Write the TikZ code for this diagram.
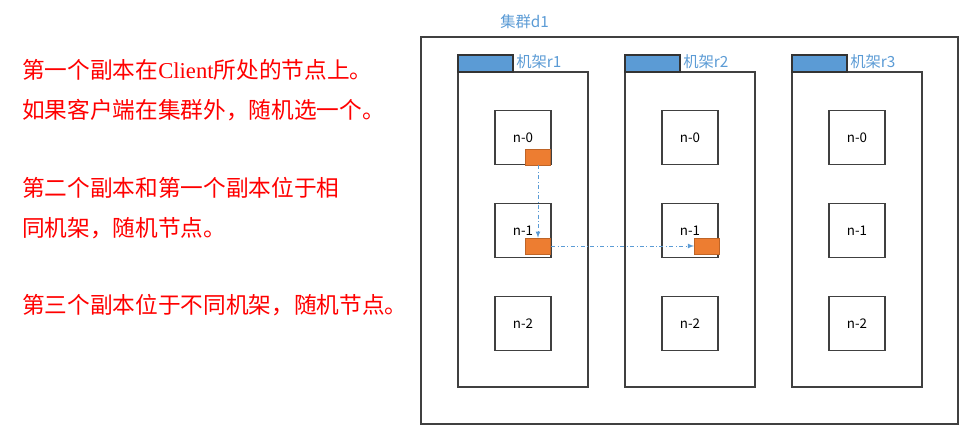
\documentclass[tikz,border=0pt]{standalone}
\usepackage{fontspec}
\setmainfont{Noto Sans CJK SC}
\newfontfamily\cli{Liberation Serif}
\definecolor{tabblue}{HTML}{5B9BD5}
\definecolor{repor}{HTML}{ED7D31}
\begin{document}
\begin{tikzpicture}[x=0.75pt,y=-0.75pt,
  box/.style={draw=black!75,line width=0.8pt},
  nd/.style={box,fill=white,minimum width=42pt,minimum height=41pt,inner sep=0pt,font=\fontsize{10}{12}\selectfont,text=black},
  tab/.style={draw=black!80,fill=tabblue,line width=0.8pt},
  rep/.style={draw=repor!80!black,fill=repor,minimum width=19pt,minimum height=12pt,inner sep=0pt},
  lnk/.style={draw=tabblue,dash dot,line width=0.6pt,-latex},
  lbl/.style={text=tabblue,font=\fontsize{11.5}{13}\selectfont,anchor=west,inner sep=0pt},
  red/.style={text=red,font=\fontsize{17}{20}\selectfont,anchor=west,inner sep=0pt}]
\useasboundingbox (0,0) rectangle (978,434);
\draw[box] (421,37) rectangle (958,424);
\node[lbl] (cl) at (500,22) {集群d1};
\foreach \r/\x in {1/458,2/625,3/792}{
  \draw[box] (\x,72) rectangle ++(130,315);
  \draw[tab] (\x,55) rectangle ++(55,17);
  \node[lbl] (lab\r) at (\x+58,62) {机架r\r};
  \node[nd] (n\r0) at (\x+65,137.5) {n-0};
  \node[nd] (n\r1) at (\x+65,230.5) {n-1};
  \node[nd] (n\r2) at (\x+65,323.5) {n-2};
}
\node[rep] (a) at (538,157) {};
\node[rep] (b) at (538,246) {};
\node[rep] (c) at (707,246) {};
\draw[lnk] (a.south) -- (b.north);
\draw[lnk] (b.east) -- (c.west);
\node[red] (t1) at (22,70) {第一个副本在{\cli Client}所处的节点上。};
\node[red] (t2) at (22,110) {如果客户端在集群外，随机选一个。};
\node[red] (t3) at (22,188) {第二个副本和第一个副本位于相};
\node[red] (t4) at (22,228) {同机架，随机节点。};
\node[red] (t5) at (22,305) {第三个副本位于不同机架，随机节点。};
\end{tikzpicture}
\end{document}
